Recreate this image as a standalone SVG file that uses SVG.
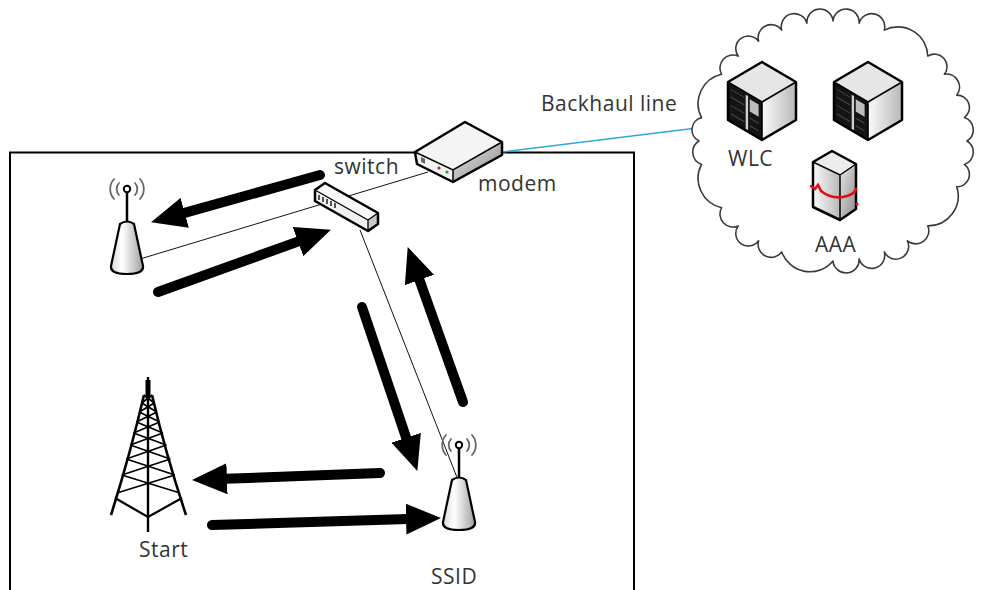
<svg xmlns="http://www.w3.org/2000/svg" width="981" height="590" viewBox="0 0 981 590">
  <style>
    .lbl { font-family: "Open Sans", "Liberation Sans", sans-serif; font-size: 21px; fill: #333; letter-spacing: 0.5px; }
    .wire { stroke: #111; stroke-width: 1; fill: none; }
    .flow { stroke: #000; stroke-width: 10; stroke-linecap: round; fill: none; marker-end: url(#head); }
    .edge { stroke: #000; stroke-width: 2.5; stroke-linejoin: round; }
    .wave { stroke: #666; stroke-width: 1.8; fill: none; stroke-linecap: round; }
    .lattice { stroke: #000; stroke-width: 1.8; fill: none; }
  </style>
  <defs>
    <marker id="head" markerUnits="userSpaceOnUse" markerWidth="35" markerHeight="31" viewBox="0 0 35 31" refX="2" refY="15.5" orient="auto">
      <path d="M0,0 L35,15.5 L0,31 Z" fill="#000"/>
    </marker>
    <linearGradient id="apBody" x1="0" y1="0" x2="1" y2="0">
      <stop offset="0" stop-color="#d6d6d6"/>
      <stop offset="0.35" stop-color="#ffffff"/>
      <stop offset="1" stop-color="#a0a0a0"/>
    </linearGradient>
    <linearGradient id="sideShade" x1="0" y1="0" x2="1" y2="0">
      <stop offset="0" stop-color="#fafafa"/>
      <stop offset="1" stop-color="#b8b8b8"/>
    </linearGradient>
    <linearGradient id="darkShade" x1="0" y1="0" x2="1" y2="1">
      <stop offset="0" stop-color="#e8e8e8"/>
      <stop offset="1" stop-color="#8a8a8a"/>
    </linearGradient>

    <!-- wireless access point, origin at antenna tip -->
    <g id="ap">
      <path class="wave" d="M-8,-6 A9,9 0 0 0 -8,6 M-13,-10 A15,15 0 0 0 -13,10 M8,-6 A9,9 0 0 1 8,6 M13,-10 A15,15 0 0 1 13,10"/>
      <line x1="0" y1="0" x2="0" y2="33" stroke="#000" stroke-width="2.5"/>
      <circle cx="0" cy="0" r="3.2" fill="#fff" stroke="#000" stroke-width="2"/>
      <path d="M-7,35 Q0,30 7,35 L16,77 Q17,85 0,85 Q-17,85 -16,77 Z" fill="url(#apBody)" stroke="#000" stroke-width="2.2" stroke-linejoin="round"/>
    </g>

    <!-- rack server cube, origin at top vertex -->
    <g id="server">
      <path d="M0,0 L34,20 L0,40 L-34,20 Z" fill="#e6e6e6"/>
      <path d="M0,40 L34,20 L34,58 L0,78 Z" fill="url(#sideShade)"/>
      <path d="M-34,20 L0,40 L0,78 L-34,58 Z" fill="#141414"/>
      <g transform="matrix(34,20,0,38,-34,20)" fill="#555">
        <rect x="0.08" y="0.14" width="0.4" height="0.025"/>
        <rect x="0.08" y="0.34" width="0.4" height="0.025"/>
        <rect x="0.08" y="0.56" width="0.4" height="0.025"/>
        <rect x="0.08" y="0.78" width="0.4" height="0.025"/>
        <rect x="0.52" y="0.06" width="0.07" height="0.9" fill="#d0d0d0"/>
        <rect x="0.64" y="0.12" width="0.26" height="0.32" fill="#bdbdbd"/>
        <rect x="0.64" y="0.6" width="0.26" height="0.025"/>
        <rect x="0.64" y="0.8" width="0.26" height="0.025"/>
      </g>
      <path d="M-34,20 L0,40 L34,20 M0,40 L0,78" fill="none" stroke="#000" stroke-width="1.6"/>
      <path class="edge" d="M0,0 L34,20 L34,58 L0,78 L-34,58 L-34,20 Z" fill="none"/>
    </g>
  </defs>

  <rect width="981" height="590" fill="#fff"/>

  <!-- site boundary -->
  <path d="M10,592 L10,152.5 L634,152.5 L634,592" fill="none" stroke="#000" stroke-width="2"/>

  <!-- connectors -->
  <g id="connectors">
    <line x1="502" y1="152" x2="697" y2="128" stroke="#29a8e0" stroke-width="1.6"/>
    <line class="wire" x1="140" y1="259" x2="428" y2="172"/>
    <line class="wire" x1="360" y1="230" x2="458" y2="480"/>
    <line class="flow" x1="320" y1="175" x2="182.8" y2="213.4"/>
    <line class="flow" x1="158" y1="292" x2="299.9" y2="240.9"/>
    <line class="flow" x1="362" y1="307" x2="406.8" y2="439.7"/>
    <line class="flow" x1="463" y1="402" x2="418.8" y2="278.1"/>
    <line class="flow" x1="380" y1="473" x2="225" y2="478.8"/>
    <line class="flow" x1="212" y1="525" x2="408" y2="519"/>
  </g>

  <!-- data centre cloud -->
  <g id="cloud">
    <path d="M967,141 A13,13 0 0 1 964.4,164.4 A12.5,12.5 0 0 1 956.8,186.9 A30,30 0 0 1 927.8,225.9 A13,13 0 0 1 907.4,240.8 A12.5,12.5 0 0 1 884.3,251.9 A13,13 0 0 1 859.1,258.7 A12.5,12.5 0 0 1 833,261 A30,30 0 0 1 781.7,251.9 A13,13 0 0 1 758.6,240.8 A12.5,12.5 0 0 1 738.2,225.9 A13,13 0 0 1 721.6,207.7 A30,30 0 0 1 701.6,164.4 A13,13 0 0 1 699,141 A12.5,12.5 0 0 1 701.6,117.6 A30,30 0 0 1 721.6,74.3 A13,13 0 0 1 738.2,56.1 A12.5,12.5 0 0 1 758.6,41.2 A13,13 0 0 1 781.7,30.1 A12.5,12.5 0 0 1 806.9,23.3 A13,13 0 0 1 833,21 A13,13 0 0 1 859.1,23.3 A13,13 0 0 1 884.3,30.1 A30,30 0 0 1 927.8,56.1 A12.5,12.5 0 0 1 944.4,74.3 A13,13 0 0 1 956.8,95.1 A12.5,12.5 0 0 1 964.4,117.6 A13,13 0 0 1 967,141 Z" fill="#fff" stroke="#3a3a3a" stroke-width="1.6" stroke-linejoin="round"/>
  </g>

  <text class="lbl" x="541" y="111">Backhaul line</text>

  <g id="wlc">
    <use href="#server" x="762" y="62"/>
    <text class="lbl" x="728" y="166">WLC</text>
  </g>

  <g id="server2">
    <use href="#server" x="868" y="62"/>
  </g>

  <g id="aaa">
    <path d="M813,162 L840,175 L840,220 L813,207 Z" fill="url(#sideShade)"/>
    <path d="M840,175 L856,164 L856,209 L840,220 Z" fill="url(#darkShade)"/>
    <path d="M813,162 L832,151 L856,164 L840,175 Z" fill="#ececec"/>
    <path d="M813,162 L840,175 L856,164 M840,175 L840,220" fill="none" stroke="#000" stroke-width="1.5"/>
    <path class="edge" d="M813,162 L832,151 L856,164 L856,209 L840,220 L813,207 Z" fill="none"/>
    <path d="M811,186 l4,3 l3,-4 l3,6 q10,8 22,6 q11,-2 13,-8" fill="none" stroke="#e01010" stroke-width="2.6" stroke-linecap="round"/>
    <circle cx="857" cy="204" r="1.6" fill="#e01010"/>
    <text class="lbl" x="815" y="252">AAA</text>
  </g>

  <g id="modem">
    <path d="M415,152 L453,170 L453,182 L417,164 Z" fill="#f2f2f2"/>
    <path d="M453,170 L502,142 L502,155 L453,182 Z" fill="url(#darkShade)"/>
    <path d="M415,152 L465,122 L502,142 L453,170 Z" fill="#f4f4f4"/>
    <rect x="421" y="157" width="4" height="5" fill="#666" transform="skewY(25)" transform-origin="421 157"/>
    <circle cx="439" cy="168" r="1.6" fill="#a03030"/>
    <circle cx="447" cy="172" r="1.6" fill="#2aa02a"/>
    <path d="M415,152 L453,170 L502,142 M453,170 L453,182" fill="none" stroke="#000" stroke-width="1.5"/>
    <path class="edge" d="M415,152 L465,122 L502,142 L502,155 L453,182 L417,164 Z" fill="none"/>
    <text class="lbl" x="478" y="191">modem</text>
  </g>

  <g id="switch">
    <path d="M315,190 L368,220 L368,231 L315,201 Z" fill="#f0f0f0"/>
    <path d="M368,220 L378,213 L378,224 L368,231 Z" fill="#c8c8c8"/>
    <path d="M315,190 L325,183 L378,213 L368,220 Z" fill="#fafafa"/>
    <path d="M319,195 l0,5 M323,197 l0,5 M327,199 l0,5 M331,201 l0,5 M335,203 l0,5" stroke="#222" stroke-width="1.5"/>
    <path d="M315,190 L368,220 L378,213 M368,220 L368,231" fill="none" stroke="#000" stroke-width="1.3"/>
    <path class="edge" d="M315,190 L325,183 L378,213 L378,224 L368,231 L315,201 Z" fill="none" stroke-width="2"/>
    <text class="lbl" x="334" y="174">switch</text>
  </g>

  <g id="ap1">
    <use href="#ap" x="127" y="189"/>
  </g>

  <g id="ssid">
    <use href="#ap" x="459" y="445"/>
    <text class="lbl" x="431" y="584">SSID</text>
  </g>

  <g id="start">
    <line x1="148" y1="377" x2="148" y2="532" stroke="#000" stroke-width="2.4"/>
    <line x1="148" y1="380" x2="148" y2="398" stroke="#000" stroke-width="5"/>
    <path d="M144,395 Q130,455 111,515 M152,395 Q166,455 186,515" fill="none" stroke="#000" stroke-width="2.6"/>
    <path class="lattice" d="M144,395 L154.3,403 M152,395 L141.8,403 M141.8,403 L156.9,412 M154.3,403 L139.3,412 M139.3,412 L159.7,422 M156.9,412 L136.5,422 M136.5,422 L162.9,433 M159.7,422 L133.5,433 M133.5,433 L166.3,445 M162.9,433 L130.2,445 M130.2,445 L170.3,459 M166.3,445 L126.3,459 M126.3,459 L174.9,475 M170.3,459 L121.8,475 M121.8,475 L180,493 M174.9,475 L116.9,493"/>
    <path d="M115,498 L148,517 L182,498" fill="none" stroke="#000" stroke-width="2.2"/>
    <text class="lbl" x="139" y="557">Start</text>
  </g>
</svg>
